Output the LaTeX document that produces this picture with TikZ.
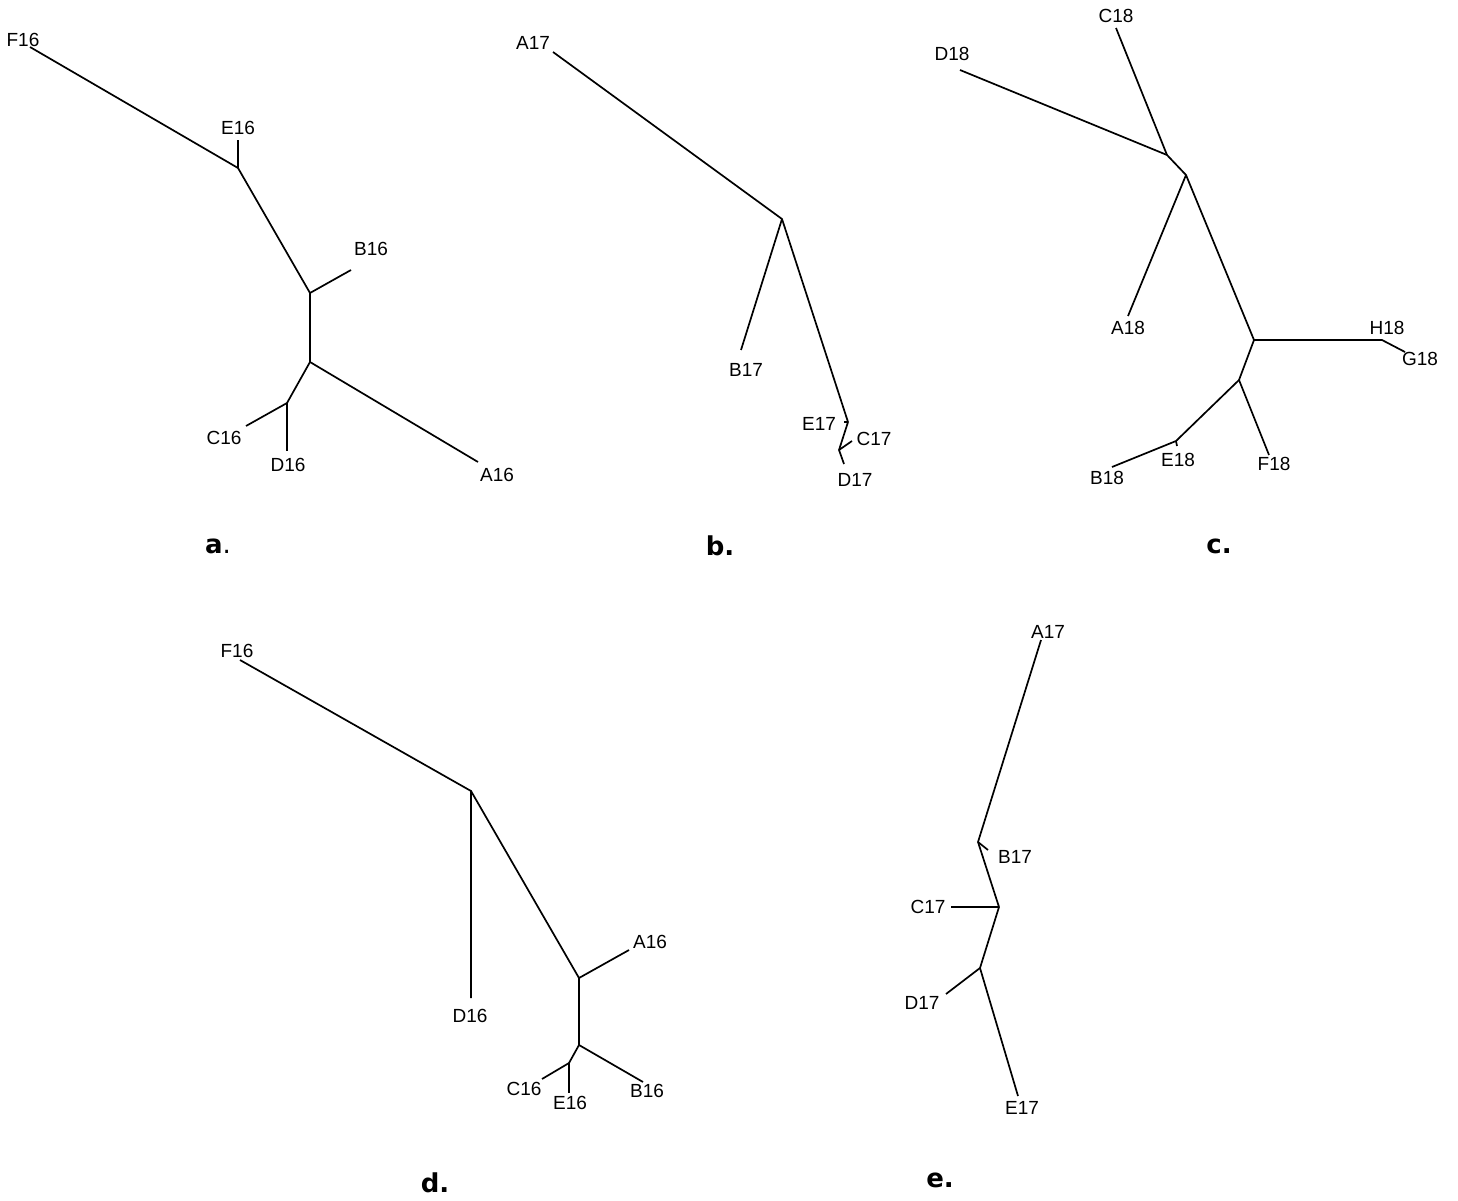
\documentclass[tikz,border=0pt]{standalone}
\usepackage{fontspec}
\setmainfont{Liberation Sans}
\newfontfamily\panelfont{DejaVu Sans}
\begin{document}
\begin{tikzpicture}[x=1pt,y=-1pt,
  edge/.style={line width=1.7pt,black},
  lab/.style={font=\fontsize{19}{21}\selectfont,inner sep=0pt},
  plab/.style={font=\panelfont\fontsize{26}{28}\selectfont,inner sep=0pt}]
\useasboundingbox (0,0) rectangle (1458,1201);
% ---------- panel a ----------
\coordinate (aF) at (30,47);
\coordinate (a1) at (238,168);
\coordinate (aE) at (238,140);
\coordinate (a2) at (310,293);
\coordinate (aB) at (351,270);
\coordinate (a3) at (310,362);
\coordinate (aA) at (478,462);
\coordinate (a4) at (287,403);
\coordinate (aC) at (246,426);
\coordinate (aD) at (287,451);
\draw[edge] (aF) -- (a1) -- (a2) -- (a3) -- (aA);
\draw[edge] (a1) -- (aE);
\draw[edge] (a2) -- (aB);
\draw[edge] (a3) -- (a4) -- (aC);
\draw[edge] (a4) -- (aD);
\node[lab] (laF) at (23,40) {F16};
\node[lab] (laE) at (238,128) {E16};
\node[lab] (laB) at (371,249) {B16};
\node[lab] (laA) at (497,475) {A16};
\node[lab] (laC) at (224,438) {C16};
\node[lab] (laD) at (288,465) {D16};
\node[plab] (pa) at (218,546) {\textbf{a}.};
% ---------- panel b ----------
\coordinate (bA) at (553,52);
\coordinate (b1) at (782,219);
\coordinate (bB) at (741,350);
\coordinate (b2) at (848,422);
\coordinate (bE) at (844,422);
\coordinate (b3) at (839,450);
\coordinate (bC) at (852,441);
\coordinate (bD) at (844,464);
\draw[edge] (bA) -- (b1) -- (b2) -- (b3) -- (bD);
\draw[edge] (b1) -- (bB);
\draw[edge] (b2) -- (bE);
\draw[edge] (b3) -- (bC);
\node[lab] (lbA) at (533,43) {A17};
\node[lab] (lbB) at (746,370) {B17};
\node[lab] (lbE) at (819,424) {E17};
\node[lab] (lbC) at (874,439) {C17};
\node[lab] (lbD) at (855,480) {D17};
\node[plab] (pb) at (720,546) {\textbf{b.}};
% ---------- panel c ----------
\coordinate (cC) at (1116,28);
\coordinate (cD) at (960,70);
\coordinate (c1) at (1167,155);
\coordinate (c2) at (1186,175);
\coordinate (cA) at (1128,316);
\coordinate (c3) at (1254,340);
\coordinate (c4) at (1382,340);
\coordinate (cG) at (1405,352);
\coordinate (c5) at (1239,380);
\coordinate (cF) at (1269,455);
\coordinate (c6) at (1176,441);
\coordinate (cE) at (1177,446);
\coordinate (cB) at (1112,467);
\draw[edge] (cC) -- (c1);
\draw[edge] (cD) -- (c1) -- (c2) -- (cA);
\draw[edge] (c2) -- (c3) -- (c4) -- (cG);
\draw[edge] (c3) -- (c5) -- (cF);
\draw[edge] (c5) -- (c6) -- (cB);
\draw[edge] (c6) -- (cE);
\node[lab] (lcC) at (1116,16) {C18};
\node[lab] (lcD) at (952,54) {D18};
\node[lab] (lcA) at (1128,328) {A18};
\node[lab] (lcH) at (1387,328) {H18};
\node[lab] (lcG) at (1420,359) {G18};
\node[lab] (lcF) at (1274,464) {F18};
\node[lab] (lcE) at (1178,460) {E18};
\node[lab] (lcB) at (1107,478) {B18};
\node[plab] (pc) at (1219,546) {\textbf{c.}};
% ---------- panel d ----------
\coordinate (dF) at (240,660);
\coordinate (d1) at (471,791);
\coordinate (dD) at (471,998);
\coordinate (d2) at (579,978);
\coordinate (dA) at (629,950);
\coordinate (d3) at (579,1045);
\coordinate (dB) at (643,1082);
\coordinate (d4) at (569,1063);
\coordinate (dC) at (542,1079);
\coordinate (dE) at (569,1093);
\draw[edge] (dF) -- (d1) -- (dD);
\draw[edge] (d1) -- (d2) -- (dA);
\draw[edge] (d2) -- (d3) -- (dB);
\draw[edge] (d3) -- (d4) -- (dC);
\draw[edge] (d4) -- (dE);
\node[lab] (ldF) at (237,651) {F16};
\node[lab] (ldD) at (470,1016) {D16};
\node[lab] (ldA) at (650,942) {A16};
\node[lab] (ldB) at (647,1091) {B16};
\node[lab] (ldC) at (524,1089) {C16};
\node[lab] (ldE) at (570,1103) {E16};
\node[plab] (pd) at (435,1183) {\textbf{d.}};
% ---------- panel e ----------
\coordinate (eA) at (1041,640);
\coordinate (e1) at (978,842);
\coordinate (eB) at (988,850);
\coordinate (e2) at (999,907);
\coordinate (eC) at (951,907);
\coordinate (e3) at (980,968);
\coordinate (eD) at (946,994);
\coordinate (eE) at (1018,1096);
\draw[edge] (eA) -- (e1) -- (e2) -- (e3) -- (eE);
\draw[edge] (e1) -- (eB);
\draw[edge] (e2) -- (eC);
\draw[edge] (e3) -- (eD);
\node[lab] (leA) at (1048,632) {A17};
\node[lab] (leB) at (1015,857) {B17};
\node[lab] (leC) at (928,907) {C17};
\node[lab] (leD) at (922,1003) {D17};
\node[lab] (leE) at (1022,1108) {E17};
\node[plab] (pe) at (940,1180) {\textbf{e.}};
\end{tikzpicture}
\end{document}
